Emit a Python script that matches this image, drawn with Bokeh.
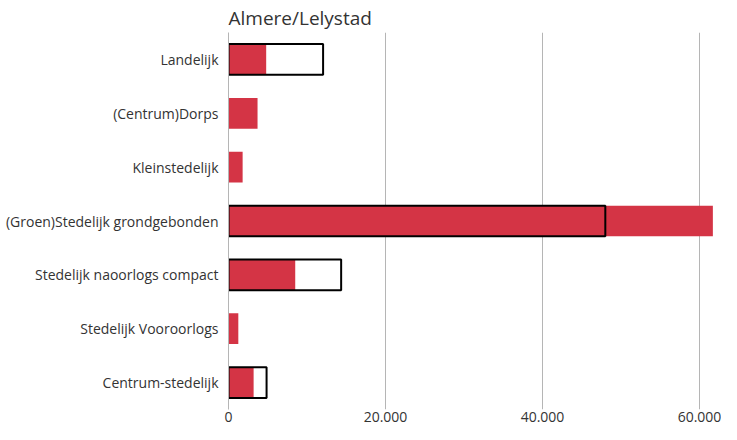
from bokeh.plotting import figure
from bokeh.models import ColumnDataSource, FixedTicker, Title
from bokeh.embed import file_html
from bokeh.resources import INLINE

categories = ["Landelijk", "(Centrum)Dorps", "Kleinstedelijk",
              "(Groen)Stedelijk grondgebonden", "Stedelijk naoorlogs compact",
              "Stedelijk Vooroorlogs", "Centrum-stedelijk"]
red_values = [4800, 3700, 1800, 61700, 8500, 1250, 3200]
outline_values = [12050, 0, 0, 48000, 14350, 0, 4850]
tick_values = [0, 20000, 40000, 60000]
tick_labels = ["0", "20.000", "40.000", "60.000"]

FONT = "Open Sans"
TXT = "#333333"

factors = list(reversed(categories))

p = figure(width=721, height=424, y_range=factors, x_range=(0, 62800),
           output_backend="svg", toolbar_location=None,
           min_border_left=228, min_border_right=0, min_border_bottom=14,
           min_border_top=0)
p.outline_line_color = None
p.background_fill_color = "white"

p.add_layout(Title(text="Almere/Lelystad", align="left", text_font=FONT,
                   text_font_size="19px", text_font_style="normal",
                   text_color=TXT, offset=0, standoff=4), "above")

red_src = ColumnDataSource(dict(cat=categories, val=red_values))
p.hbar(y="cat", right="val", left=0, height=0.57, source=red_src,
       fill_color="#d43445", line_color=None)

ocats = [c for c, v in zip(categories, outline_values) if v > 0]
ovals = [v for v in outline_values if v > 0]
out_src = ColumnDataSource(dict(cat=ocats, val=ovals))
p.hbar(y="cat", right="val", left=0, height=0.57, source=out_src,
       fill_alpha=0, line_color="black", line_width=2)

p.xaxis.ticker = FixedTicker(ticks=tick_values)
p.xaxis.major_label_overrides = {v: l for v, l in zip(tick_values, tick_labels)}
p.xaxis.axis_line_color = None
p.xaxis.major_tick_line_color = None
p.xaxis.minor_tick_line_color = None
p.xaxis.major_tick_out = 0
p.xaxis.major_tick_in = 0
p.xaxis.major_label_text_font = FONT
p.xaxis.major_label_text_font_size = "14px"
p.xaxis.major_label_text_color = TXT
p.xaxis.major_label_standoff = 2

p.yaxis.axis_line_color = "#b5b5b5"
p.yaxis.major_tick_line_color = None
p.yaxis.minor_tick_line_color = None
p.yaxis.major_tick_out = 0
p.yaxis.major_tick_in = 0
p.yaxis.major_label_text_font = FONT
p.yaxis.major_label_text_font_size = "14px"
p.yaxis.major_label_text_color = TXT
p.yaxis.major_label_standoff = 10

p.xgrid.ticker = FixedTicker(ticks=tick_values)
p.xgrid.grid_line_color = "#b5b5b5"
p.xgrid.grid_line_width = 1
p.ygrid.grid_line_color = None

open("out.html", "w").write(file_html(p, INLINE))
